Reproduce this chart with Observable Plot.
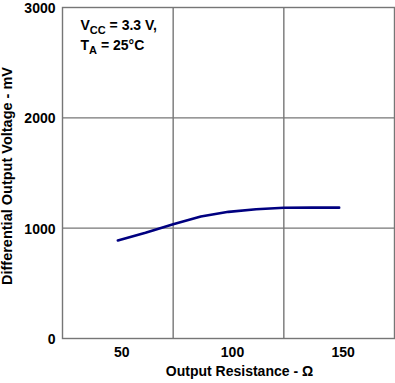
<!DOCTYPE html>
<html>
<head>
<meta charset="utf-8">
<script src="https://cdn.jsdelivr.net/npm/d3@7"></script>
<script src="https://cdn.jsdelivr.net/npm/@observablehq/plot@0.6"></script>
<style>
  html, body { margin: 0; padding: 0; background: #fff; }
</style>
</head>
<body>
<div id="chart"></div>
<script>
// Data
const resistance = [50, 62.5, 75, 87.5, 100, 112.5, 125, 137.5, 150];
const voltage = [888, 958, 1036, 1105, 1148, 1172, 1185, 1186, 1186];
const xTicks = [50, 100, 150];
const yTicks = [0, 1000, 2000, 3000];
const xGrid = [75, 125];
const yGrid = [1000, 2000];
const xTitle = "Output Resistance - \u03A9";
const yTitle = "Differential Output Voltage - mV";
const annBase = ["V", "T"];
const annSub = ["CC", "A"];
const annRest = [" = 3.3 V,", " = 25\u00B0C"];

const data = resistance.map((r, i) => ({r, v: voltage[i]}));
const annFull = annBase.map((b, i) => b + annSub[i] + annRest[i]);

const gridColor = "#767676";
const font = "'Liberation Sans', Arial, Helvetica, sans-serif";

const chart = Plot.plot({
  width: 395,
  height: 383,
  marginLeft: 62,
  marginRight: 1,
  marginTop: 7,
  marginBottom: 45,
  style: {fontFamily: font, fontSize: "14px", fontWeight: "bold", color: "#000", background: "#fff", overflow: "visible"},
  x: {domain: [25, 175]},
  y: {domain: [0, 3000]},
  marks: [
    Plot.ruleX(xGrid, {stroke: gridColor, strokeWidth: 1.4}),
    Plot.ruleY(yGrid, {stroke: gridColor, strokeWidth: 1.4}),
    Plot.frame({stroke: gridColor, strokeWidth: 1.4}),
    Plot.line(data, {x: "r", y: "v", stroke: "#000080", strokeWidth: 2.6}),
    Plot.axisX(xTicks, {tickSize: 0, tickPadding: 9, dx: 4, label: null, tickFormat: d => String(d), fontSize: 14, fill: "#000"}),
    Plot.axisY(yTicks, {tickSize: 0, tickPadding: 7, dy: 1, label: null, tickFormat: d => String(d), fontSize: 14, fill: "#000"}),
    Plot.text([xTitle], {frameAnchor: "bottom", dx: 11, dy: 33, lineAnchor: "middle", textAnchor: "middle", fontSize: 14, fill: "#000"}),
    Plot.text([yTitle], {frameAnchor: "left", dx: -55, dy: 3, rotate: -90, lineAnchor: "middle", textAnchor: "middle", fontSize: 14.5, fill: "#000"}),
    Plot.text([annFull[0]], {frameAnchor: "top-left", dx: 18, dy: 13, textAnchor: "start", lineAnchor: "top", fontSize: 14, fill: "#000"}),
    Plot.text([annFull[1]], {frameAnchor: "top-left", dx: 18, dy: 33, textAnchor: "start", lineAnchor: "top", fontSize: 14, fill: "#000"})
  ]
});

// Subscripts in annotation
d3.select(chart).selectAll("text").each(function() {
  const t = this.textContent;
  const i = annFull.indexOf(t);
  if (i < 0) return;
  const sel = d3.select(this);
  sel.text(null);
  sel.append("tspan").text(annBase[i]);
  sel.append("tspan").attr("dy", 4).attr("font-size", 11).text(annSub[i]);
  sel.append("tspan").attr("dy", -4).text(annRest[i]);
});

document.getElementById("chart").appendChild(chart);
</script>
</body>
</html>
